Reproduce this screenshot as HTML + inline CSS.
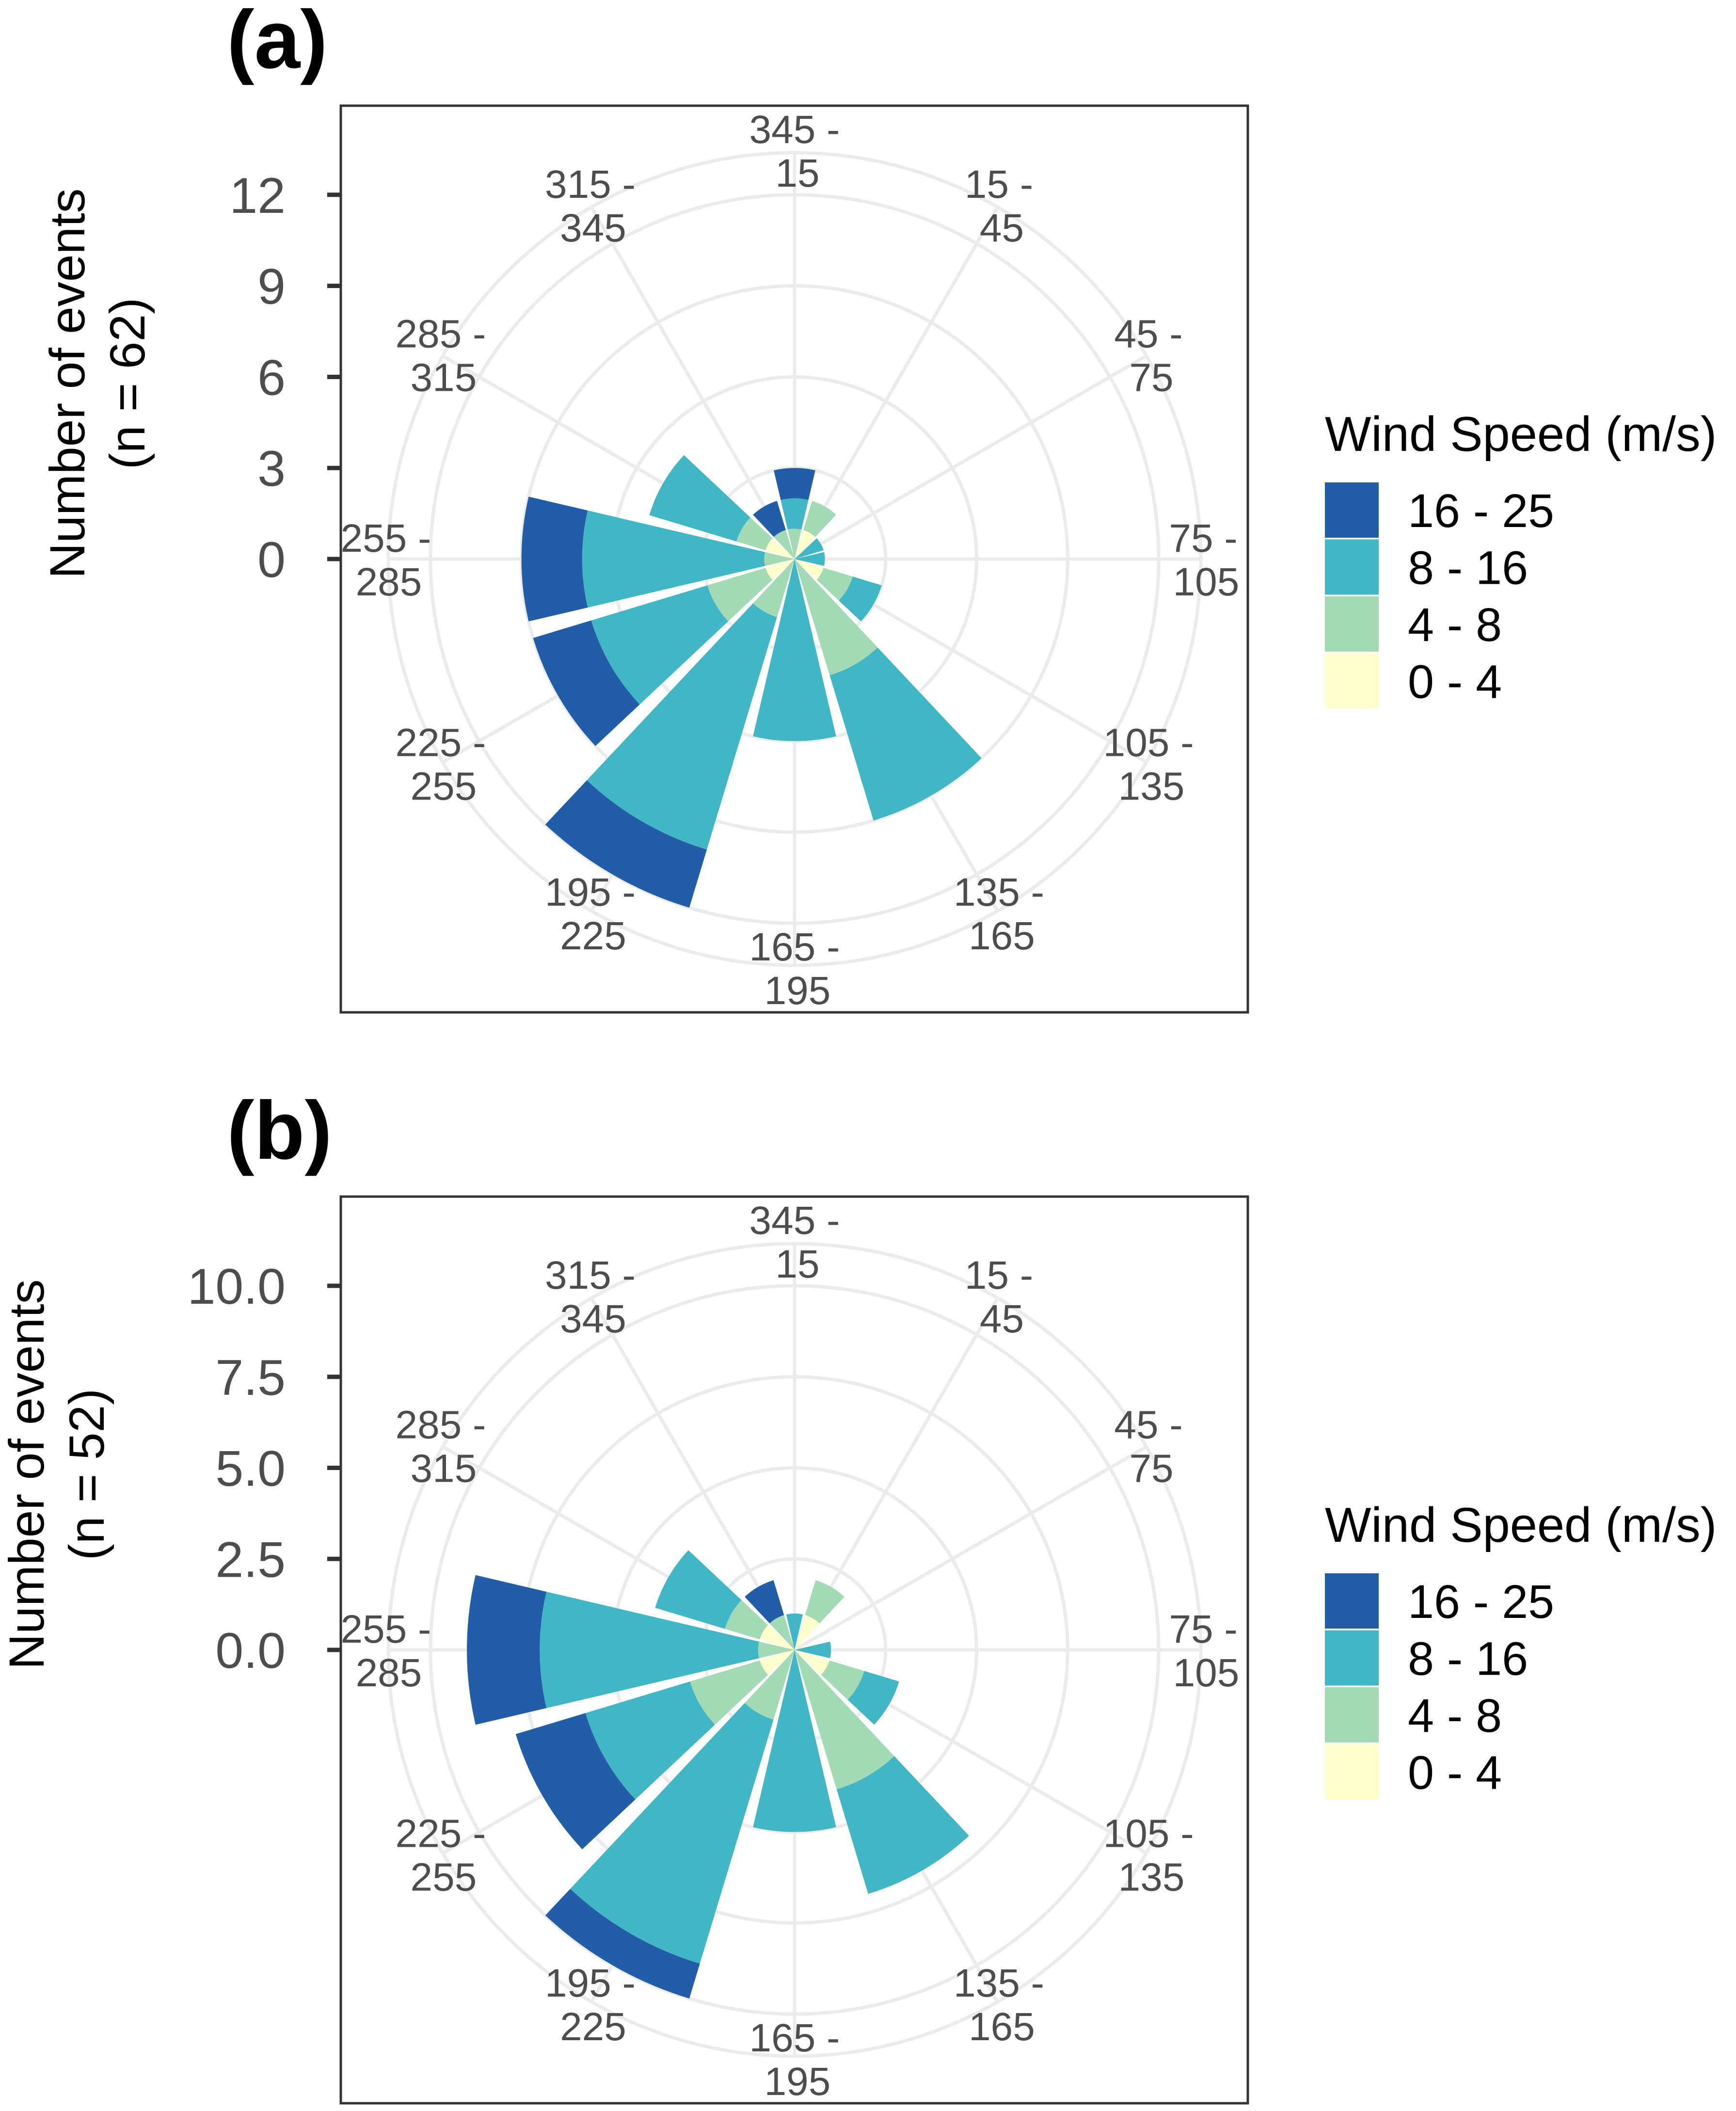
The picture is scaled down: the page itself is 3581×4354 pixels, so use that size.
<!DOCTYPE html>
<html><head><meta charset="utf-8"><style>
html,body{margin:0;padding:0;background:#fff;}
svg{display:block;}
text{font-family:"Liberation Sans",Arial,sans-serif;}
</style></head><body>
<svg id="chart" width="3581" height="4354" viewBox="0 0 3581 4354" xmlns="http://www.w3.org/2000/svg"></svg>
<script>
const directions = ["345 - 15","15 - 45","45 - 75","75 - 105","105 - 135","135 - 165","165 - 195","195 - 225","225 - 255","255 - 285","285 - 315","315 - 345"];
const speedBins = ["0 - 4","4 - 8","8 - 16","16 - 25"];
const binColors = ["#FFFFCC","#A1DAB4","#41B6C4","#225EA8"];
// panel (a) counts per direction per speed bin
const aBin0to4  = [0,1,0,0,1,0,0,0,1,0,1,0];
const aBin4to8  = [1,1,0,0,1,4,0,2,2,1,1,1];
const aBin8to16 = [1,0,1,1,1,5,6,8,4,6,3,0];
const aBin16to25= [1,0,0,0,0,0,0,2,2,2,0,1];
const aTicks = [0,3,6,9,12];
const aTickLabels = ["0","3","6","9","12"];
// panel (b)
const bBin0to4  = [0,1,0,0,1,0,0,0,1,0,1,0];
const bBin4to8  = [0,1,0,0,1,4,0,2,2,1,1,1];
const bBin8to16 = [1,0,0,1,1,3,5,7,3,6,2,0];
const bBin16to25= [0,0,0,0,0,0,0,1,2,2,0,1];
const bTicks = [0,2.5,5,7.5,10];
const bTickLabels = ["0.0","2.5","5.0","7.5","10.0"];

const NS="http://www.w3.org/2000/svg";
const svg=document.getElementById('chart');
function mk(tag,attrs,parent){const e=document.createElementNS(NS,tag);for(const k in attrs)e.setAttribute(k,attrs[k]);(parent||svg).appendChild(e);return e;}

function panel(opt){
  const cx=1639, cy=opt.cy, unit=opt.unit, R=838, HW=13.2;
  const g=mk('g',{});
  
  
  const rS=v=>v*unit;
  const pt=(r,deg)=>{const a=deg*Math.PI/180;return [cx+r*Math.sin(a), cy-r*Math.cos(a)];};
  const pl=mk('text',{x:468,y:cy-1013,'font-size':170,'font-weight':'bold',fill:'#000'},g);
  pl.textContent=opt.label;
  
  
  const grid=mk('g',{stroke:'#EBEBEB','stroke-width':7,fill:'none'},g);
  
  
  opt.ticks.forEach(v=>{ if(v>0) mk('circle',{cx:cx,cy:cy,r:rS(v)},grid); });
  mk('circle',{cx:cx,cy:cy,r:R},grid);
  directions.forEach((d,i)=>{const p=pt(R,i*30);mk('line',{x1:cx,y1:cy,x2:p[0],y2:p[1]},grid);});
  const bars=mk('g',{},g);
  
  
  directions.forEach((d,i)=>{
    let base=0;
    const a0=i*30-HW,a1=i*30+HW;
    opt.series.forEach((arr,k)=>{
      const v=arr[i]; if(v<=0) return;
      const r0=rS(base), r1=rS(base+v);
      const p1=pt(r1,a0),p2=pt(r1,a1),p3=pt(r0,a1),p4=pt(r0,a0);
      let dstr=`M${p4[0]},${p4[1]} L${p1[0]},${p1[1]} A${r1},${r1} 0 0 1 ${p2[0]},${p2[1]} L${p3[0]},${p3[1]}`;
      if(r0>0) dstr+=` A${r0},${r0} 0 0 0 ${p4[0]},${p4[1]}`;
      dstr+='Z';
      const s=mk('path',{d:dstr,fill:binColors[k]},bars);
      
      
      base+=v;
    });
  });
  directions.forEach((d,i)=>{
    const p=pt(843,i*30);
    const parts=d.split(' - ');
    const t=mk('text',{x:p[0],'text-anchor':'middle','font-size':82,fill:'#4D4D4D'},g);
    
    
    const s1=mk('tspan',{x:p[0],y:p[1]-15},t); s1.textContent=parts[0]+' -';
    const s2=mk('tspan',{x:p[0]+6,y:p[1]+75},t); s2.textContent=parts[1];
  });
  const b=mk('rect',{x:703,y:cy-935,width:1871,height:1870,fill:'none',stroke:'#333','stroke-width':5},g);
  
  
  opt.ticks.forEach((v,j)=>{
    const y=cy-rS(v);
    mk('line',{x1:675,y1:y,x2:703,y2:y,stroke:'#333','stroke-width':9},g);
    const t=mk('text',{x:589,y:y+37,'text-anchor':'end','font-size':104,fill:'#4D4D4D'},g);
    
    
    t.textContent=opt.tickLabels[j];
  });
  const tt=mk('text',{'text-anchor':'middle','font-size':102,fill:'#000',transform:`rotate(-90 ${opt.titleX} ${cy-362})`},g);
  
  
  const l1=mk('tspan',{x:opt.titleX,y:cy-362+36-62},tt); l1.textContent='Number of events';
  const l2=mk('tspan',{x:opt.titleX,y:cy-362+36+62},tt); l2.textContent=opt.nText;
  const lg=mk('g',{},g);
  
  
  const lt=mk('text',{x:2733,y:cy-223,'font-size':101,fill:'#000'},lg);
  lt.textContent='Wind Speed (m/s)';
  
  
  for(let k=3;k>=0;k--){
    const idx=3-k;
    const y=cy-158+idx*117.5;
    const r=mk('rect',{x:2733,y:y,width:111,height:114,fill:binColors[k]},lg);
    
    
    const t=mk('text',{x:2904,y:y+92,'font-size':97,fill:'#000'},lg);
    
    
    t.textContent=speedBins[k];
  }
}
panel({name:'panel-a',label:'(a)',cy:1153,unit:62.6,ticks:aTicks,tickLabels:aTickLabels,series:[aBin0to4,aBin4to8,aBin8to16,aBin16to25],titleX:200,nText:'(n = 62)'});
panel({name:'panel-b',label:'(b)',cy:3403,unit:75.1,ticks:bTicks,tickLabels:bTickLabels,series:[bBin0to4,bBin4to8,bBin8to16,bBin16to25],titleX:116,nText:'(n = 52)'});
</script>
</body></html>
